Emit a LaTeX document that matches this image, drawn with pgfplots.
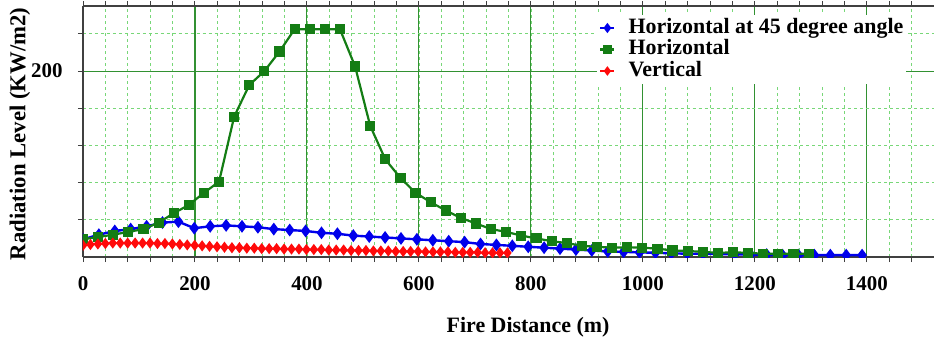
\documentclass[border=0pt]{standalone}
\usepackage{pgfplots}
\pgfplotsset{compat=1.18}
\usepackage{fontspec}
\setmainfont{Liberation Serif}
\definecolor{cblue}{RGB}{0,0,235}
\definecolor{cgreen}{RGB}{20,125,20}
\definecolor{cred}{RGB}{255,10,10}
\definecolor{gmajor}{RGB}{50,145,50}
\definecolor{gminor}{RGB}{120,215,120}
\begin{document}
\begin{tikzpicture}
\begin{axis}[
  name=ax,
  scale only axis,
  width=851bp, height=251bp,
  xmin=0, xmax=1520, ymin=0, ymax=270,
  xtick={0,200,...,1400},
  minor xtick={40,80,...,1520},
  ytick={200},
  minor ytick={40,80,120,160,240},
  grid=both,
  major grid style={gmajor, line width=1.1pt},
  minor grid style={gminor, dashed, line width=0.8pt},
  axis x line=box, axis y line=left,
  axis line style={black!75, line width=1.2pt, -},
  tick style={black!75, line width=1pt},
  tick align=outside,
  major tick length=5bp, minor tick length=5bp,
  /pgf/number format/assume math mode=true,
  /pgf/number format/1000 sep={},
  tick label style={font=\fontsize{21}{23}\selectfont\bfseries},
  xticklabel style={yshift=-11bp},
  yticklabel style={xshift=-12bp},
  xlabel={Fire Distance (m)},
  ylabel={Radiation Level (KW/m2)},
  xlabel style={font=\fontsize{22}{24}\selectfont\bfseries, at={(axis description cs:0.523,-0.279)}, anchor=center},
  ylabel style={font=\fontsize{22.8}{24}\selectfont\bfseries, at={(axis description cs:-0.074,0.49)}, anchor=center},
  clip marker paths=true,
  legend cell align=left,
  legend style={at={(axis description cs:0.604,0.964)}, anchor=north west,
    draw=none, fill=white, font=\fontsize{22}{24}\selectfont\bfseries,
    row sep=0bp, inner sep=2bp,
    nodes={text height=15bp, text depth=4.5bp, inner sep=1bp},
    /tikz/every odd column/.append style={column sep=12bp}},
  legend image code/.code={\draw[mark repeat=2,mark phase=2,#1,mark size=3.2pt] plot coordinates {(0bp,0bp) (7bp,0bp) (14bp,0bp)};},
]
\addplot[cblue, line width=2.4pt, mark=diamond*, mark size=4.5pt, mark options={solid}] coordinates {
(0,19) (28.4,24) (56.8,28) (85.2,30) (113.6,33) (142,37) (170.4,38) (198.8,31) (227.2,33) (255.6,34)
(284,33) (312.4,32) (340.8,30) (369.2,29) (397.6,28) (426,26) (454.4,25) (482.8,23) (511.2,22) (539.6,21)
(568,20) (596.4,19) (624.8,18) (653.2,17) (681.6,16) (710,14) (738.4,13) (766.8,12) (795.2,11) (823.6,10)
(852,9) (880.4,8) (908.8,7) (937.2,6) (965.6,5.5) (994,5) (1022.4,4.5) (1050.8,4) (1079.2,3.5) (1107.6,3.5)
(1136,3) (1164.4,3) (1192.8,2.5) (1221.2,2.5) (1249.6,2) (1278,2) (1306.4,2) (1334.8,2) (1363.2,2) (1391.6,2)
};
\addlegendentry{Horizontal at 45 degree angle}
\addplot[cgreen, line width=2.2pt, mark=square*, mark size=4pt, mark options={solid}] coordinates {
(0,19) (27,21.5) (54,24) (81,27) (108,30) (135,37) (162,47) (189,56) (216,69) (243,81)
(270,151) (297,185) (324,200) (351,221) (378,245) (405,245) (432,245) (459,245) (486,205) (513,141)
(540,105) (567,85) (594,69) (621,59) (648,50) (675,42) (702,36) (729,30) (756,27) (783,23)
(810,20) (837,17) (864,15) (891,12) (918,11) (945,10) (972,10.5) (999,10) (1026,9) (1053,7)
(1080,6.5) (1107,5.5) (1134,4.5) (1161,5) (1188,4.5) (1215,3.5) (1242,3.5) (1269,3.5) (1296,3.5)
};
\addlegendentry{Horizontal}
\addplot[cred, line width=2pt, mark=diamond*, mark size=4pt, mark options={solid}] coordinates {
(0,12.5) (13.3,13.5) (26.6,14) (39.9,14.5) (53.2,15) (66.5,15) (79.8,15) (93.1,15) (106.4,15) (119.7,15)
(133,14.5) (146.3,14.5) (159.6,14) (172.9,13.5) (186.2,13) (199.5,12.5) (212.8,12) (226.1,11.5) (239.4,11) (252.7,10.5)
(266,10) (279.3,10) (292.6,9.5) (305.9,9.5) (319.2,9) (332.5,9) (345.8,9) (359.1,8.5) (372.4,8.5) (385.7,8.5)
(399,8) (412.3,8) (425.6,8) (438.9,7.5) (452.2,7.5) (465.5,7.5) (478.8,7) (492.1,7) (505.4,7) (518.7,6.5)
(532,6.5) (545.3,6.5) (558.6,6) (571.9,6) (585.2,6) (598.5,6) (611.8,5.5) (625.1,5.5) (638.4,5.5) (651.7,5.5)
(665,5) (678.3,5) (691.6,5) (704.9,5) (718.2,4.5) (731.5,4.5) (744.8,4.5) (758.1,4.5)
};
\addlegendentry{Vertical}
\end{axis}
\pgfresetboundingbox
\path[use as bounding box] ([xshift=-83bp,yshift=-81bp]ax.south west) rectangle ([yshift=6bp]ax.north east);
\end{tikzpicture}
\end{document}
